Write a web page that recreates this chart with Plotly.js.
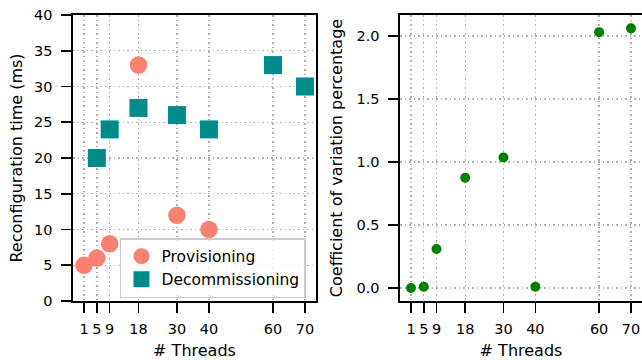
<!DOCTYPE html>
<html>
<head>
<meta charset="utf-8">
<script src="https://cdn.plot.ly/plotly-3.0.1.min.js"></script>
<style>html,body{margin:0;padding:0;background:#fff;}#chart{width:642px;height:360px;}</style>
</head>
<body>
<div id="chart"></div>
<script>
const threadTicks = [1, 5, 9, 18, 30, 40, 60, 70];
const provThreads = [1, 5, 9, 18, 30, 40];
const provTime = [5, 6, 8, 33, 12, 10];
const decomThreads = [5, 9, 18, 30, 40, 60, 70];
const decomTime = [20, 24, 27, 26, 24, 33, 30];
const cvThreads = [1, 5, 9, 18, 30, 40, 60, 70];
const cvValues = [0.0, 0.01, 0.31, 0.875, 1.035, 0.01, 2.03, 2.06];
const yTicksLeft = [0, 5, 10, 15, 20, 25, 30, 35, 40];
const yTicksRight = [0.0, 0.5, 1.0, 1.5, 2.0];

const FONT = 'DejaVu Sans, sans-serif';
const traces = [
  {x: provThreads, y: provTime, type: 'scatter', mode: 'markers', name: 'Provisioning',
   marker: {symbol: 'circle', size: 17.5, color: '#FA8072', line: {width: 0}}, xaxis: 'x', yaxis: 'y'},
  {x: decomThreads, y: decomTime, type: 'scatter', mode: 'markers', name: 'Decommissioning',
   marker: {symbol: 'square', size: 18, color: '#008B8B', line: {width: 0}}, xaxis: 'x', yaxis: 'y'},
  {x: cvThreads, y: cvValues, type: 'scatter', mode: 'markers', name: 'CV', showlegend: false,
   marker: {symbol: 'circle', size: 10, color: '#008000', line: {width: 0}}, xaxis: 'x2', yaxis: 'y2'}
];

const axisCommon = {
  showline: true, linecolor: '#000', linewidth: 1.6, mirror: true,
  ticks: 'outside', ticklen: 10, tickwidth: 1.6, tickcolor: '#000',
  showgrid: true, gridcolor: '#b0b0b0', gridwidth: 1.3, griddash: '1.5px,3px',
  zeroline: false, tickfont: {family: FONT, size: 14.5, color: '#000'}
};

const layout = {
  width: 642, height: 360,
  margin: {l: 73, r: 0, t: 15, b: 59},
  paper_bgcolor: '#fff', plot_bgcolor: '#fff',
  font: {family: FONT, color: '#000'},
  showlegend: true,
  legend: {x: 0.0826, y: 0.22, xanchor: 'left', yanchor: 'top',
           bgcolor: 'rgba(255,255,255,0.8)', bordercolor: '#cccccc', borderwidth: 1.5,
           font: {family: FONT, size: 15.5, color: '#000'}},
  xaxis: Object.assign({}, axisCommon, {domain: [0, 0.4271], range: [-2.45, 73.45],
    tickmode: 'array', tickvals: threadTicks, ticktext: threadTicks.map(String), ticklabelstandoff: 4,
    title: {text: '# Threads', font: {family: FONT, size: 16, color: '#000'}, standoff: 11}, anchor: 'y'}),
  yaxis: Object.assign({}, axisCommon, {domain: [0, 1], range: [0, 40],
    tickmode: 'array', tickvals: yTicksLeft, ticktext: yTicksLeft.map(String), ticklabelstandoff: 6,
    title: {text: 'Reconfiguration time (ms)', font: {family: FONT, size: 16, color: '#000'}, standoff: 7}, anchor: 'x'}),
  xaxis2: Object.assign({}, axisCommon, {domain: [0.5747, 1], range: [-2.45, 73.45],
    tickmode: 'array', tickvals: threadTicks, ticktext: threadTicks.map(String), ticklabelstandoff: 4,
    title: {text: '# Threads', font: {family: FONT, size: 16, color: '#000'}, standoff: 11}, anchor: 'y2'}),
  yaxis2: Object.assign({}, axisCommon, {domain: [0, 1], range: [-0.103, 2.166],
    tickmode: 'array', tickvals: yTicksRight, ticktext: yTicksRight.map(v => v.toFixed(1)), ticklabelstandoff: 6,
    title: {text: 'Coefficient of variation percentage', font: {family: FONT, size: 16, color: '#000'}, standoff: 10}, anchor: 'x2'})
};

Plotly.newPlot('chart', traces, layout, {displayModeBar: false, staticPlot: true});
</script>
</body>
</html>
